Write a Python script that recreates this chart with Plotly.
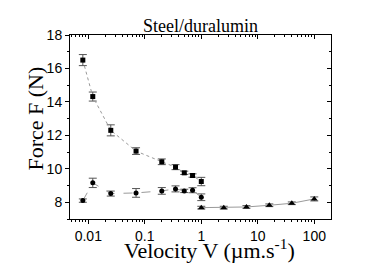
import plotly.graph_objects as go

# --- data ---
v_squares = [0.008, 0.012, 0.025, 0.07, 0.2, 0.35, 0.5, 0.7, 1.0]
f_squares = [16.5, 14.32, 12.3, 11.06, 10.42, 10.1, 9.76, 9.6, 9.24]
e_squares = [0.33, 0.27, 0.33, 0.2, 0.17, 0.15, 0.1, 0.1, 0.25]

v_circles = [0.008, 0.012, 0.025, 0.07, 0.2, 0.35, 0.5, 0.7, 1.0]
f_circles = [8.1, 9.16, 8.52, 8.56, 8.68, 8.8, 8.68, 8.72, 8.3]
e_circles = [0.1, 0.28, 0.15, 0.26, 0.2, 0.18, 0.1, 0.15, 0.2]

v_triangles = [1.0, 2.5, 6.3, 16, 40, 100]
f_triangles = [7.68, 7.68, 7.72, 7.82, 7.94, 8.2]
e_triangles = [0.08, 0.08, 0.08, 0.08, 0.08, 0.12]

x_tickvals = [0.01, 0.1, 1, 10, 100]
x_ticktext = ["0.01", "0.1", "1", "10", "100"]
y_tickvals = [8, 10, 12, 14, 16, 18]

minor_x = [m * 10 ** e for e in range(-3, 3) for m in range(2, 10)]
minor_y = [7, 9, 11, 13, 15, 17]

serif = "Liberation Serif, Times New Roman, serif"
sans = "Liberation Sans, Arial, sans-serif"

def series(x, y, e, symbol, dash, size):
    return go.Scatter(
        x=x, y=y, mode="lines+markers",
        line=dict(color="#9a9a9a", width=1, dash=dash),
        marker=dict(symbol=symbol, size=size, color="black"),
        error_y=dict(type="data", array=e, visible=True, color="#555555", thickness=1, width=4),
        showlegend=False,
    )

fig = go.Figure()
fig.add_trace(series(v_squares, f_squares, e_squares, "square", "dot", 5))
fig.add_trace(series(v_circles, f_circles, e_circles, "circle", "dash", 5))
fig.add_trace(series(v_triangles, f_triangles, e_triangles, "triangle-up", "solid", 6))

xrange = [-2.324, 2.296]
yrange = [7, 18]

fig.update_layout(
    width=386, height=273,
    margin=dict(l=70, r=55, t=35, b=54),
    paper_bgcolor="white", plot_bgcolor="white",
    title=dict(text="Steel/duralumin", x=0.5, xref="paper", y=1, yref="paper",
               yanchor="bottom", xanchor="center", pad=dict(b=3),
               font=dict(family=serif, size=18, color="black")),
    xaxis=dict(
        type="log", range=xrange, showgrid=False, zeroline=False,
        showline=True, linecolor="black", linewidth=1, mirror=True,
        ticks="outside", ticklen=4, tickcolor="black",
        tickmode="array", tickvals=x_tickvals, ticktext=x_ticktext,
        tickfont=dict(family=sans, size=14, color="black"),
        minor=dict(tickmode="array", tickvals=minor_x, ticks="outside", ticklen=2, tickcolor="black", showgrid=False),
    ),
    xaxis2=dict(
        type="log", range=xrange, overlaying="x", side="top", showgrid=False, zeroline=False,
        showline=False, ticks="inside", ticklen=4, tickcolor="black",
        tickmode="array", tickvals=x_tickvals, showticklabels=False,
        minor=dict(tickmode="array", tickvals=minor_x, ticks="inside", ticklen=2, tickcolor="black", showgrid=False),
    ),
    yaxis=dict(
        range=yrange, showgrid=False, zeroline=False,
        showline=True, linecolor="black", linewidth=1, mirror=True,
        ticks="outside", ticklen=4, tickcolor="black",
        tickmode="array", tickvals=y_tickvals,
        tickfont=dict(family=sans, size=14, color="black"),
        minor=dict(tickmode="array", tickvals=minor_y, ticks="outside", ticklen=2, tickcolor="black", showgrid=False),
    ),
    yaxis2=dict(
        range=yrange, overlaying="y", side="right", showgrid=False, zeroline=False,
        showline=False, ticks="inside", ticklen=4, tickcolor="black",
        tickmode="array", tickvals=y_tickvals, showticklabels=False,
        minor=dict(tickmode="array", tickvals=minor_y, ticks="inside", ticklen=2, tickcolor="black", showgrid=False),
    ),
)

fig.add_annotation(text="Velocity V (µm.s<sup>-1</sup>)", xref="paper", yref="paper",
                   x=0.536, y=0, xanchor="center", yanchor="middle", yshift=-30,
                   showarrow=False, font=dict(family=serif, size=22, color="black"))
fig.add_annotation(text="Force F (N)", xref="paper", yref="paper", textangle=-90,
                   x=0, y=0.546, xanchor="center", yanchor="middle", xshift=-34,
                   showarrow=False, font=dict(family=serif, size=22, color="black"))

# invisible trace to activate the mirrored tick axes
fig.add_trace(go.Scatter(x=[x_tickvals[0]], y=[y_tickvals[0]], xaxis="x2", yaxis="y2",
                         mode="markers", marker=dict(opacity=0), showlegend=False, hoverinfo="skip"))

fig.write_html("out.html", config={"displayModeBar": False},
               post_script="document.body.style.margin='0';")
